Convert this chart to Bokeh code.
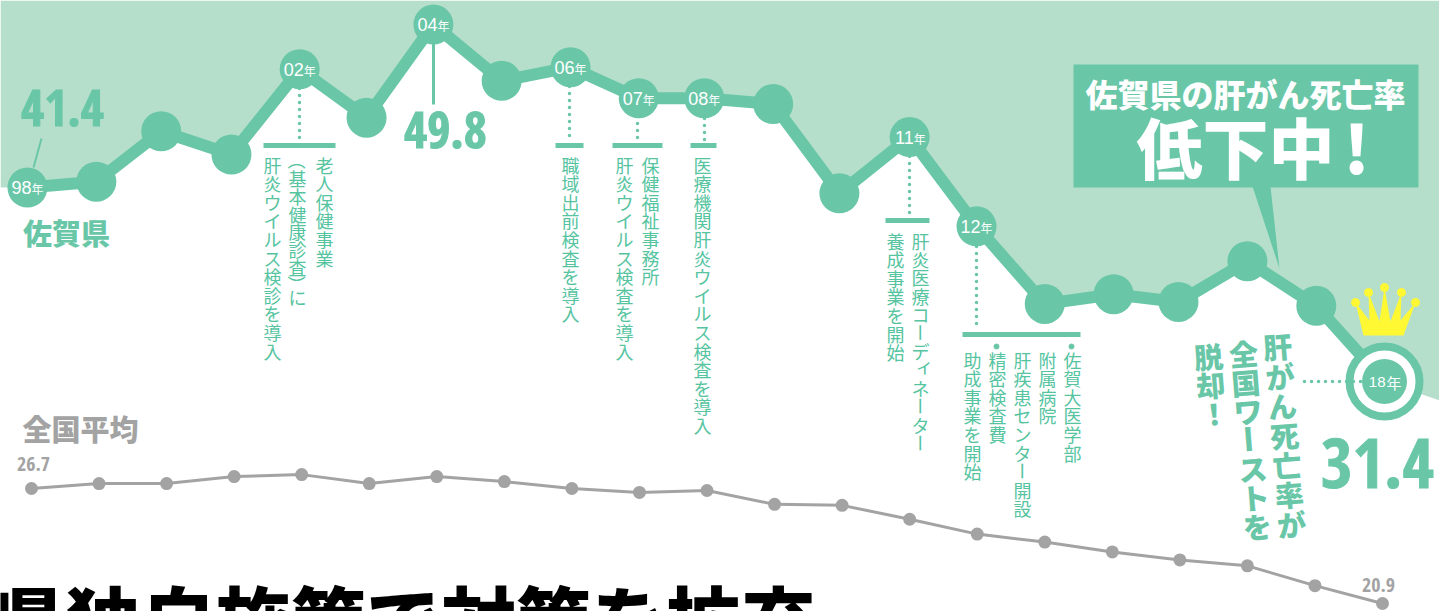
import math
from bokeh.core.properties import value
from bokeh.embed import file_html
from bokeh.models import LinearAxis, Range1d
from bokeh.plotting import figure
from bokeh.resources import INLINE

# Liver cancer death rate per 100,000: Saga prefecture against the national average
years = list(range(1998, 2019))
saga_x = [1997.94, 1998.96, 1999.92, 2000.96, 2001.97, 2002.96, 2003.95, 2004.96, 2005.98, 2006.99, 2007.96,
          2008.98, 2009.96, 2011.0, 2011.99, 2013.0, 2014.02, 2014.98, 2016.0, 2017.02, 2018.03]
saga_values = [41.4, 41.7, 44.3, 43.1, 47.5, 45.0, 49.8, 46.9, 47.6, 46.0, 46.0,
               45.7, 41.1, 44.0, 39.4, 35.4, 35.9, 35.5, 37.6, 35.3, 31.4]
national_values = [26.7, 26.95, 26.95, 27.3, 27.4, 26.95, 27.3, 27.05, 26.7, 26.5, 26.6,
                   25.9, 25.85, 25.15, 24.4, 24.0, 23.5, 23.1, 22.8, 21.8, 20.9]
year_tags = {1998: "98", 2002: "02", 2004: "04", 2006: "06", 2007: "07", 2008: "08",
             2011: "11", 2012: "12"}

W, H = 1439, 611
GREEN = "#69c7a8"
TEXT_GREEN = "#55c49f"
HAZE = "#b6dfcb"
GREY = "#a3a3a3"
YELLOW = "#fff833"
JP = "Noto Sans CJK JP"
JP_BLACK = "Noto Sans CJK JP Black"
NUM = "Open Sans Condensed"
LIGHT = "Liberation Sans"

PX_PER_YEAR = 67.55
PX_PER_UNIT = 19.4
NAT_PX_PER_UNIT = 19.83


def dx(px):
    return 1998 + (px - 31) / PX_PER_YEAR


def dy(py):
    return 41.4 - (py - 187) / PX_PER_UNIT


p = figure(width=W, height=H, output_backend="svg", toolbar_location=None,
           x_range=Range1d(dx(0), dx(W)), y_range=Range1d(dy(H), dy(0)),
           min_border=0, outline_line_color=None, background_fill_color="white",
           border_fill_color="white")
p.axis.visible = False
p.grid.visible = False
p.extra_y_ranges["national"] = Range1d(26.7 - (H - 488) / NAT_PX_PER_UNIT, 26.7 + 488 / NAT_PX_PER_UNIT)
hidden_axis = LinearAxis(y_range_name="national", visible=False)
p.add_layout(hidden_axis, "right")

# Tinted band above the Saga line
band_x = [dx(0)] + saga_x + [dx(W), dx(W), dx(0)]
band_y = [saga_values[0]] + saga_values + [dy(400), dy(0), dy(0)]
p.patch(band_x, band_y, fill_color=HAZE, line_color=None)


def text(px, py, s, size, color, font=JP, style="bold", align="center", baseline="middle", outline=None):
    p.text([dx(px)], [dy(py)], text=[s], text_font=value(font), text_font_size=f"{size}px",
           text_font_style=style, text_color=color, text_align=align, text_baseline=baseline,
           text_outline_color=outline)


def column(px, py0, s, pitch, size=18, color=TEXT_GREEN, style="normal", tilt=0.0, font=JP):
    # One vertical line of Japanese text, set character by character
    xs, ys, chars, angles = [], [], [], []
    py = py0
    for ch in s:
        nudge_x, nudge_y, turn = 0, 0, tilt
        if ch in "ー（）":
            turn = tilt - 90
        if ch in "ィ":
            nudge_x, nudge_y = 4, -4
        if ch in "！":
            nudge_x = 1
        xs.append(dx(px + nudge_x + math.tan(math.radians(tilt)) * (py - py0)))
        ys.append(dy(py + nudge_y))
        chars.append(ch)
        angles.append(math.radians(turn))
        py += pitch - 5 if ch == "）" else pitch
    p.text(xs, ys, text=chars, angle=angles, text_font=value(font), text_font_size=f"{size}px",
           text_font_style=style, text_color=color, text_align="center", text_baseline="middle")


def rule(x0, y0, x1, y1, width=4, dash=None, color=GREEN):
    kw = dict(line_dash=dash, line_cap="round") if dash else {}
    p.line([dx(x0), dx(x1)], [dy(y0), dy(y1)], line_color=color, line_width=width, **kw)


# Callout with its pointer
p.patch([dx(v) for v in (1252, 1270, 1279)], [dy(v) for v in (186, 186, 268)], fill_color=GREEN, line_color=None)
p.quad(left=[dx(1073)], right=[dx(1418)], top=[dy(64)], bottom=[dy(187)], fill_color=GREEN, line_color=None)
text(1245, 92, "佐賀県の肝がん死亡率", 32, "white", font=JP_BLACK)
text(1235, 144, "低下中", 66, "white", font=JP_BLACK)
text(1356, 144, "!", 66, "white", font=JP_BLACK)

# Leader lines and the measures introduced along the way
rule(33, 167, 41, 138, width=2)
rule(433, 40, 433, 104, width=3)
for hb, dot in [((263, 335, 145), (299, 88, 140)), ((555, 583, 145), (569, 86, 140)),
                ((612, 662, 145), (637, 116, 140)), ((690, 716, 145), (704, 118, 140)),
                ((885, 929, 220), (909, 156, 215)), ((962, 1080, 334), (976, 246, 328))]:
    rule(hb[0], hb[2], hb[1], hb[2], width=5)
    rule(dot[0], dot[1], dot[0], dot[2], width=3.5, dash="0 7")

column(324, 164, "老人保健事業", 18.6)
column(297, 160, "（基本健康診査）に", 17.7)
column(272, 164, "肝炎ウイルス検診を導入", 18.6)
column(570, 164, "職域出前検査を導入", 18.6)
column(650, 164, "保健福祉事務所", 18.6)
column(624, 164, "肝炎ウイルス検査を導入", 18.6)
column(702, 164, "医療機関肝炎ウイルス検査を導入", 18.6)
column(920, 240, "肝炎医療コーディネーター", 18.4)
column(895, 240, "養成事業を開始", 18.6)
column(1072, 359, "佐賀大医学部", 18.6)
column(1047, 359, "附属病院", 18.6)
column(1022, 359, "肝疾患センター開設", 18.6)
column(997, 359, "精密検査費", 18.6)
column(972, 359, "助成事業を開始", 18.6)
p.scatter([dx(1071), dx(996)], [dy(346), dy(346)], size=5, color=GREEN)

# Saga line
p.line(saga_x, saga_values, line_color=GREEN, line_width=12, line_join="miter")
p.scatter(saga_x[:-1], saga_values[:-1], size=40, fill_color=GREEN, line_color=None)
p.scatter(saga_x[-1:], saga_values[-1:], size=70, fill_color="white", line_color=GREEN, line_width=8)
rule(1304, 381, 1363, 381, width=3.5, dash="0 7")
p.scatter(saga_x[-1:], saga_values[-1:], size=45, fill_color=GREEN, line_color=None)

# Year tags inside the bubbles
for yr, tag in year_tags.items():
    i = years.index(yr)
    sx = 31 + (saga_x[i] - 1998) * PX_PER_YEAR
    sy = 187 + (41.4 - saga_values[i]) * PX_PER_UNIT
    text(sx + 4, sy, tag, 18, "white", font=LIGHT, style="normal", align="right")
    text(sx + 4, sy + 1, "年", 12, "white", style="normal", align="left")
text(1385, 381, "18", 15, "white", font=LIGHT, style="normal", align="right")
text(1386, 382, "年", 15, "white", style="normal", align="left")

# National average
p.line(years, national_values, y_range_name="national", line_color=GREY, line_width=3)
p.scatter(years, national_values, y_range_name="national", size=13, fill_color=GREY, line_color=None)

# Crown
crown_x = [1363, 1355, 1369, 1368, 1379, 1384, 1390, 1401, 1400, 1415, 1403]
crown_y = [335, 302, 320, 292, 321, 287, 321, 292, 320, 302, 335]
p.patch([dx(v) for v in crown_x], [dy(v) for v in crown_y], fill_color=YELLOW, line_color=None)
p.scatter([dx(v) for v in (1355, 1368, 1384, 1401, 1415)], [dy(v) for v in (302, 292, 287, 292, 302)],
          size=8, color=YELLOW)

# Headline numbers and series names, thickened with an outline in the same colour
text(62, 107, "41.4", 50, GREEN, font=NUM, outline=GREEN)
text(445, 129, "49.8", 50, GREEN, font=NUM, outline=GREEN)
text(1377, 463, "31.4", 68, GREEN, font=NUM, outline=GREEN)
text(66, 231, "佐賀県", 29, GREEN, font=JP_BLACK)
text(80, 427, "全国平均", 29, GREY, font=JP_BLACK)
text(33, 463, "26.7", 20, GREY, font=NUM)
text(1378, 584, "20.9", 20, GREY, font=NUM)

# Side note beside the final point
column(1277, 345, "肝がん死亡率が", 29.6, size=29, color=GREEN, style="bold", tilt=4.5, font=JP_BLACK)
column(1243, 352, "全国ワーストを", 28.8, size=29, color=GREEN, style="bold", tilt=4.5, font=JP_BLACK)
column(1208, 355, "脱却！", 28.5, size=29, color=GREEN, style="bold", tilt=4.5, font=JP_BLACK)

# Headline of the next article, cut off by the bottom edge
headline = "県独自施策で対策を拡充"
for i, ch in enumerate(headline):
    text(28 + 75 * i, 562, ch, 75, "black", font=JP_BLACK, baseline="top")

open("out.html", "w").write(file_html(p, INLINE))
